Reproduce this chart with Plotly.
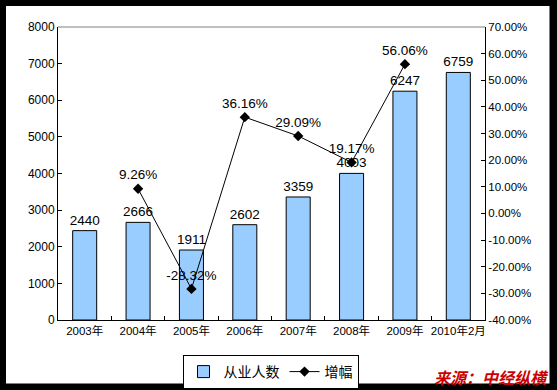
import plotly.graph_objects as go

categories = ["2003年", "2004年", "2005年", "2006年", "2007年", "2008年", "2009年", "2010年2月"]
employees = [2440, 2666, 1911, 2602, 3359, 4003, 6247, 6759]
growth = [None, 0.0926, -0.2832, 0.3616, 0.2909, 0.1917, 0.5606, None]
growth_labels = ["", "9.26%", "-28.32%", "36.16%", "29.09%", "19.17%", "56.06%", ""]
left_ticks = [0, 1000, 2000, 3000, 4000, 5000, 6000, 7000, 8000]
right_tickvals = [-0.4, -0.3, -0.2, -0.1, 0.0, 0.1, 0.2, 0.3, 0.4, 0.5, 0.6, 0.7]
right_ticktext = ["-40.00%", "-30.00%", "-20.00%", "-10.00%", "0.00%", "10.00%",
                  "20.00%", "30.00%", "40.00%", "50.00%", "60.00%", "70.00%"]

W, H = 557, 390
L, R, T, B = 58, 72, 27, 70
pw, ph = W - L - R, H - T - B

def px(x):
    return (x - L) / pw

def py(y):
    return (H - B - y) / ph

font_main = "Arial, 'Liberation Sans', 'Noto Sans CJK SC', sans-serif"

fig = go.Figure()
fig.add_trace(go.Bar(
    x=categories, y=employees, name="从业人数",
    marker=dict(color="#99CCFF", line=dict(color="black", width=1)),
    text=[str(v) for v in employees], textposition="outside",
    textfont=dict(size=13.5, color="black", family=font_main),
    constraintext="none",
    cliponaxis=False, yaxis="y",
))
fig.add_trace(go.Scatter(
    x=categories, y=growth, name="增幅", yaxis="y2",
    mode="lines+markers+text",
    line=dict(color="black", width=1),
    marker=dict(symbol="diamond", size=8, color="black"),
    text=growth_labels, textposition="top center",
    textfont=dict(size=13.5, color="black", family=font_main),
    cliponaxis=False,
))

fig.update_layout(
    width=W, height=H,
    margin=dict(l=L, r=R, t=T, b=B, pad=0, autoexpand=False),
    paper_bgcolor="black", plot_bgcolor="white",
    font=dict(family=font_main, size=12, color="black"),
    bargap=0.55,
    showlegend=True,
    legend=dict(orientation="h", x=px(270.5), xanchor="center", y=py(355), yanchor="top",
                bgcolor="white", bordercolor="black", borderwidth=1,
                font=dict(size=14, family="'Noto Sans CJK SC', sans-serif"),
                itemwidth=30, tracegroupgap=0),
    xaxis=dict(type="category", showline=True, linecolor="black", linewidth=1,
               ticks="inside", ticklen=4, tickcolor="black", tickson="boundaries",
               tickangle=0, automargin=False,
               tickfont=dict(size=11.5, family=font_main), showgrid=False, zeroline=False,
               fixedrange=True),
    yaxis=dict(range=[0, 8000], tickvals=left_ticks, showline=True, linecolor="black",
               linewidth=1, ticks="inside", ticklen=4, tickcolor="black", automargin=False,
               tickfont=dict(size=12), showgrid=False, zeroline=False),
    yaxis2=dict(range=[-0.4, 0.7], overlaying="y", side="right", tickvals=right_tickvals,
                ticktext=right_ticktext, showline=True, linecolor="black", linewidth=1,
                ticks="inside", ticklen=4, tickcolor="black", automargin=False,
                tickfont=dict(size=11.5), showgrid=False, zeroline=False),
    shapes=[
        dict(type="rect", xref="paper", yref="paper", x0=px(6), x1=px(549.5), y0=py(383.5), y1=py(6),
             fillcolor="white", line=dict(width=0), layer="below"),
        dict(type="line", xref="paper", yref="paper", x0=0, x1=1, y0=1, y1=1,
             line=dict(color="#808080", width=1)),
    ],
    annotations=[
        dict(text="<b><i>来源：中经纵横</i></b>", xref="paper", yref="paper",
             x=px(551), y=py(377), xanchor="right", yanchor="middle", showarrow=False,
             font=dict(size=16, color="#CC0000", family="'Noto Sans CJK SC', sans-serif")),
    ],
)

fig.write_html("out.html", config={"displayModeBar": False},
               post_script="document.body.style.margin='0';document.body.style.overflow='hidden';")
